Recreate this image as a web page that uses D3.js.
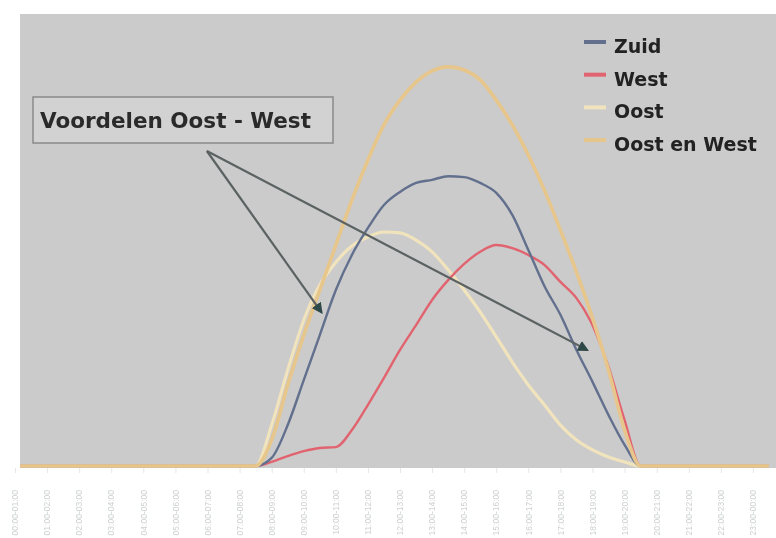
<!DOCTYPE html>
<html>
<head>
<meta charset="utf-8">
<script src="https://cdn.jsdelivr.net/npm/d3@7"></script>
<style>
  html, body { margin: 0; padding: 0; background: #ffffff; }
  svg { display: block; }
</style>
</head>
<body>
<svg id="chart" width="776" height="538"></svg>
<script>
// ---- Data (half-hour samples, value units; 0 outside the listed daylight window) ----
const hours = d3.range(0, 24, 0.5);            // 00:00 .. 23:30
const tickLabels = ["00:00-01:00","01:00-02:00","02:00-03:00","03:00-04:00","04:00-05:00","05:00-06:00",
  "06:00-07:00","07:00-08:00","08:00-09:00","09:00-10:00","10:00-11:00","11:00-12:00",
  "12:00-13:00","13:00-14:00","14:00-15:00","15:00-16:00","16:00-17:00","17:00-18:00",
  "18:00-19:00","19:00-20:00","20:00-21:00","21:00-22:00","22:00-23:00","23:00-00:00"];
const seriesNames = ["Zuid", "West", "Oost", "Oost en West"];
// values from 08:00 to 19:30 (24 half-hour points)
const dayStart = 8;
const zuid      = [18, 91, 191, 291, 391, 469, 529, 580, 609, 629, 636, 644, 642, 629, 607, 558, 480, 400, 336, 258, 187, 113, 47, 0];
const west      = [9, 22, 33, 40, 42, 80, 136, 196, 258, 313, 369, 413, 449, 476, 491, 484, 469, 447, 409, 373, 313, 220, 102, 0];
const oost      = [91, 213, 324, 402, 453, 489, 509, 520, 518, 502, 476, 436, 391, 342, 287, 231, 180, 136, 91, 58, 36, 20, 9, 0];
const oostWest  = [58, 180, 291, 391, 491, 591, 680, 758, 813, 853, 878, 887, 880, 858, 813, 758, 691, 613, 524, 431, 329, 213, 80, 0];
const seriesColors = ["#62708e", "#e2646f", "#f1e4bd", "#e7c68c"];
const seriesWidths = [2.4, 2.4, 3.2, 3.6];
// annotation (data units: hour, value)
const annotationText = "Voordelen Oost - West";
const annoStart = [5.98, 700];
const annoTargets = [[9.55, 342], [17.83, 258]];

function fullSeries(vals) {
  return hours.map(h => {
    const i = Math.round((h - dayStart) * 2);
    return { h, v: (i >= 0 && i < vals.length) ? vals[i] : 0 };
  });
}
const seriesData = [zuid, west, oost, oostWest].map(fullSeries);

// ---- Layout ----
const svg = d3.select("#chart");
const plot = { left: 20, top: 14, right: 776, bottom: 468 };

const x = d3.scaleLinear().domain([0, 24]).range([15, 785]);
const y = d3.scaleLinear().domain([0, 1000]).range([466, 16]);

const defs = svg.append("defs");
defs.append("filter").attr("id", "soft")
  .attr("x", "-5%").attr("y", "-5%").attr("width", "110%").attr("height", "110%")
  .append("feGaussianBlur").attr("stdDeviation", 0.6);
defs.append("clipPath").attr("id", "clip")
  .append("rect").attr("x", plot.left).attr("y", plot.top)
  .attr("width", plot.right - plot.left).attr("height", plot.bottom - plot.top + 4);
defs.append("marker").attr("id", "arrow")
  .attr("viewBox", "0 0 10 10").attr("refX", 8).attr("refY", 5)
  .attr("markerWidth", 5).attr("markerHeight", 5).attr("orient", "auto")
  .append("path").attr("d", "M0,0 L10,5 L0,10 z").attr("fill", "#2f4646");

const g = svg.append("g").attr("filter", "url(#soft)");

// plot background
g.append("rect")
  .attr("x", plot.left).attr("y", plot.top)
  .attr("width", plot.right - plot.left).attr("height", plot.bottom - plot.top)
  .attr("fill", "#cbcbcb");

// x axis
const xAxis = d3.axisBottom(x)
  .tickValues(d3.range(0, 24))
  .tickSize(5)
  .tickFormat(d => tickLabels[d]);
const ax = g.append("g").attr("transform", `translate(0,${plot.bottom})`).call(xAxis);
ax.select(".domain").remove();
ax.selectAll(".tick line").attr("stroke", "#e6e6e6");
ax.selectAll(".tick text")
  .attr("transform", "rotate(-90)")
  .attr("x", -22).attr("y", 0).attr("dy", "0.32em")
  .attr("text-anchor", "end")
  .attr("fill", "#cdd2cd")
  .attr("font-family", "Liberation Sans, Arial, sans-serif")
  .attr("font-size", 8.5);

// lines
const line = d3.line().x(d => x(d.h)).y(d => y(d.v)).curve(d3.curveMonotoneX);
const lines = g.append("g").attr("clip-path", "url(#clip)");
// draw order: Oost, Oost en West, West, Zuid (so baseline shows tan)
[2, 1, 0, 3].forEach(i => {
  lines.append("path")
    .datum(seriesData[i])
    .attr("fill", "none")
    .attr("stroke", seriesColors[i])
    .attr("stroke-width", seriesWidths[i])
    .attr("stroke-linejoin", "round")
    .attr("d", line);
});

// annotation box
const boxX = 33, boxY = 97, boxW = 300, boxH = 46;
g.append("rect")
  .attr("x", boxX).attr("y", boxY).attr("width", boxW).attr("height", boxH)
  .attr("fill", "#d2d2d2").attr("stroke", "#8a8a8a").attr("stroke-width", 1.5);
g.append("text")
  .attr("x", boxX + 7).attr("y", boxY + 31)
  .attr("font-family", "DejaVu Sans, Verdana, sans-serif")
  .attr("font-weight", "bold").attr("font-size", 21.5)
  .attr("fill", "#2a2a2a")
  .text(annotationText);

// arrows
annoTargets.forEach(t => {
  g.append("line")
    .attr("x1", x(annoStart[0])).attr("y1", y(annoStart[1]))
    .attr("x2", x(t[0])).attr("y2", y(t[1]))
    .attr("stroke", "#5b6262").attr("stroke-width", 2.2)
    .attr("marker-end", "url(#arrow)");
});

// legend
const legend = g.append("g").attr("transform", "translate(584,53)");
seriesNames.forEach((name, i) => {
  const row = legend.append("g").attr("transform", `translate(0,${i * 32.7})`);
  row.append("line").attr("x1", 0).attr("x2", 22).attr("y1", -11).attr("y2", -11)
    .attr("stroke", seriesColors[i]).attr("stroke-width", 4);
  row.append("text").attr("x", 30).attr("y", 0)
    .attr("font-family", "DejaVu Sans, Verdana, sans-serif")
    .attr("font-weight", "bold").attr("font-size", 19)
    .attr("fill", "#222")
    .text(name);
});
</script>
</body>
</html>
